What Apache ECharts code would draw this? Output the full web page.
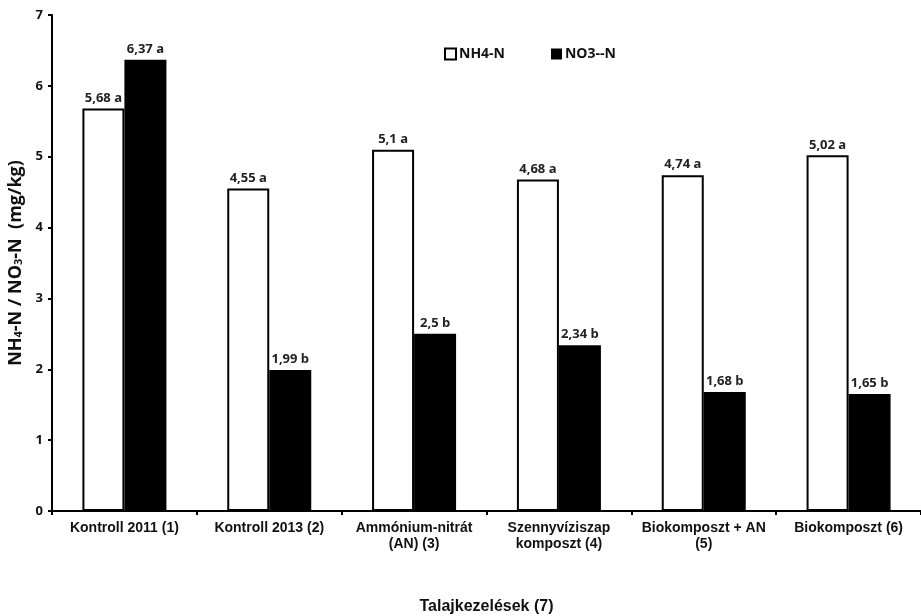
<!DOCTYPE html>
<html><head><meta charset="utf-8">
<script src="https://cdn.jsdelivr.net/npm/echarts@6/dist/echarts.min.js"></script>
<style>html,body{margin:0;padding:0;background:#fff}#c{width:921px;height:616px}</style>
</head><body><div id="c"></div>
<script>
const categories = ['Kontroll 2011 (1)', 'Kontroll 2013 (2)', 'Ammónium-nitrát\n(AN) (3)', 'Szennyvíziszap\nkomposzt (4)', 'Biokomposzt + AN\n(5)', 'Biokomposzt (6)'];
const nh4Values = [5.68, 4.55, 5.1, 4.68, 4.74, 5.02];
const nh4Letters = ['a', 'a', 'a', 'a', 'a', 'a'];
const no3Values = [6.37, 1.99, 2.5, 2.34, 1.68, 1.65];
const no3Letters = ['a', 'b', 'b', 'b', 'b', 'b'];
const yTicks = [0, 1, 2, 3, 4, 5, 6, 7];

const chart = echarts.init(document.getElementById('c'), null, {renderer: 'canvas'});
function fmt(v) { return String(v).replace('.', ','); }
const labelStyle = {fontFamily: 'Open Sans', fontWeight: 'bold', fontSize: 13, color: '#222', distance: 4};
chart.setOption({
  animation: false,
  grid: {left: 52, right: 0, top: 15, bottom: 105, containLabel: false, outerBoundsMode: 'none'},
  legend: {
    left: 439, top: 42, itemWidth: 11, itemHeight: 11, itemGap: 46,
    icon: 'rect',
    textStyle: {fontFamily: 'Open Sans', fontWeight: 'bold', fontSize: 14, color: '#111', padding: [0,0,0,-2]},
    data: ['NH4-N', 'NO3--N']
  },
  xAxis: {
    type: 'category', data: categories,
    name: 'Talajkezelések (7)', nameLocation: 'middle', nameGap: 88,
    nameTextStyle: {fontFamily: 'Liberation Sans', fontWeight: 'bold', fontSize: 16, color: '#111'},
    axisLine: {lineStyle: {color: '#000', width: 2}},
    axisTick: {show: true, alignWithLabel: false, length: 4, lineStyle: {color: '#000', width: 2}},
    axisLabel: {interval: 0, fontFamily: 'Liberation Sans', fontWeight: 'bold', fontSize: 14, color: '#111', margin: 9, lineHeight: 16}
  },
  yAxis: {
    type: 'value', min: 0, max: 7, interval: 1,
    name: '{a|NH}{s|4}{a|-N / NO}{s|3}{a|-N  (mg/kg)}', nameLocation: 'middle', nameGap: 26,
    nameTextStyle: {
      rich: {
        a: {fontFamily: 'Open Sans', fontWeight: 'bold', fontSize: 18, color: '#111', verticalAlign: 'bottom', lineHeight: 22},
        s: {fontFamily: 'Open Sans', fontWeight: 'bold', fontSize: 11, color: '#111', verticalAlign: 'bottom', lineHeight: 15}
      }
    },
    splitLine: {show: false},
    axisLine: {show: true, lineStyle: {color: '#000', width: 2}},
    axisTick: {show: true, length: 4, lineStyle: {color: '#000', width: 2}},
    axisLabel: {fontFamily: 'Open Sans', fontWeight: 'bold', fontSize: 13, color: '#111', margin: 9,
      formatter: v => yTicks.includes(v) ? String(v) : ''}
  },
  series: [
    {
      name: 'NH4-N', type: 'bar', data: nh4Values, barGap: '0%', barCategoryGap: '42%',
      itemStyle: {color: '#fff', borderColor: '#000', borderWidth: 2},
      label: Object.assign({show: true, position: 'top', formatter: p => fmt(p.value) + ' ' + nh4Letters[p.dataIndex]}, labelStyle)
    },
    {
      name: 'NO3--N', type: 'bar', data: no3Values, barGap: '0%', barCategoryGap: '42%',
      itemStyle: {color: '#000', borderColor: '#000', borderWidth: 0},
      label: Object.assign({show: true, position: 'top', formatter: p => fmt(p.value) + ' ' + no3Letters[p.dataIndex]}, labelStyle)
    }
  ]
});
</script></body></html>
